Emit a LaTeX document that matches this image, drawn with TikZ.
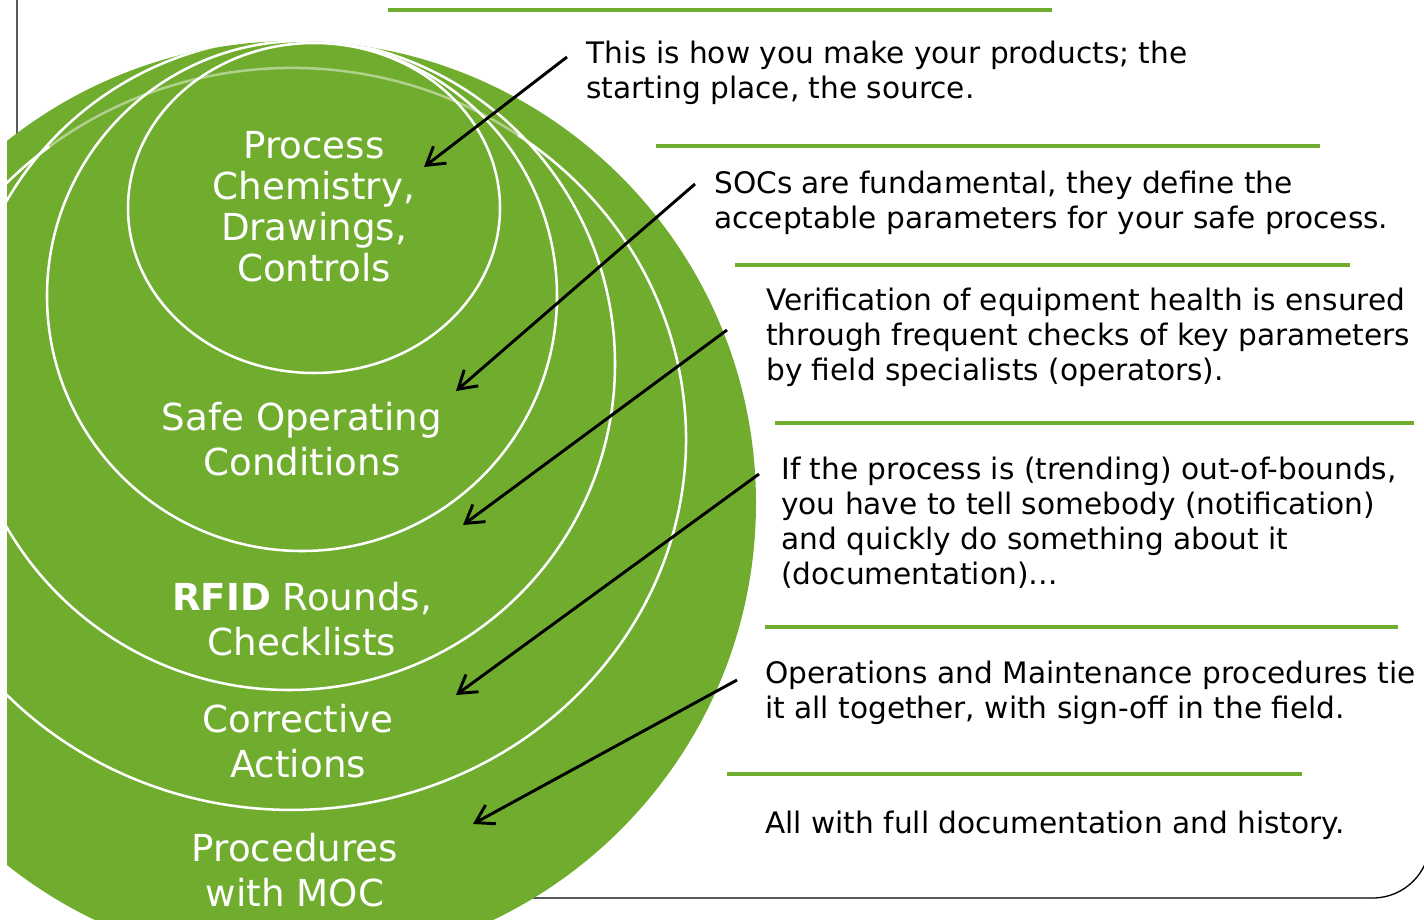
\documentclass[tikz,border=0pt]{standalone}
\usepackage{fontspec}
\setmainfont{DejaVu Sans}
\usetikzlibrary{arrows.meta}
\definecolor{socgreen}{HTML}{70AC2E}

\tikzset{
  ring/.style={draw=white, line width=1.9pt},
  rule/.style={draw=socgreen, line width=3pt},
  pointer/.style={draw=black, line width=2.2pt, -{Straight Barb[length=13pt,width=16pt]}},
  note/.style={anchor=north west, inner sep=0pt, align=left, font=\fontsize{22.2}{26.25}\selectfont},
  layer/.style={anchor=north, inner sep=0pt, align=center, text=white, font=\fontsize{27.9}{33.75}\selectfont},
}

\begin{document}
\begin{tikzpicture}[x=0.75pt,y=0.75pt,yscale=-1,xscale=1]
\useasboundingbox (0,0) rectangle (1424,920);

%Shape: Frame
\draw[line width=1pt, rounded corners=43pt] (17,-80) -- (17,898) -- (1430,898) -- (1430,-80);

%Shape: Circle (outer disc and rings)
\begin{scope}
\clip (7,0) rectangle (1424,920);
\fill[socgreen] (294,503) circle [radius=462];
\clip (294,503) circle [radius=462];
\draw[ring] (314,208) ellipse [x radius=186, y radius=165];
\draw[ring] (302,296) circle [radius=255];
\draw[ring] (289,364) circle [radius=326];
\draw[ring] (518,135) arc [start angle=-55, end angle=232, x radius=394, y radius=371];
\draw[ring, draw opacity=0.45] (518,135) arc [start angle=-55, end angle=-128, x radius=394, y radius=371];
\end{scope}

%Straight Lines (green rules)
\draw[rule] (388,10) -- (1052,10);
\draw[rule] (656,146) -- (1320,146);
\draw[rule] (735,265) -- (1350,265);
\draw[rule] (775,423) -- (1414,423);
\draw[rule] (765,627) -- (1398,627);
\draw[rule] (727,774) -- (1302,774);

% Text Node
\node[note] (srcnote) at (586,41) {This is how you make your products; the\\starting place, the source.};
% Text Node
\node[note] (socnote) at (714,171) {SOCs are fundamental, they define the\\acceptable parameters for your safe process.};
% Text Node
\node[note] (rfidnote) at (766,288) {Verification of equipment health is ensured\\through frequent checks of key parameters\\by field specialists (operators).};
% Text Node
\node[note] (actnote) at (781,457) {If the process is (trending) out-of-bounds,\\you have to tell somebody (notification)\\and quickly do something about it\\(documentation)…};
% Text Node
\node[note] (procnote) at (765,661) {Operations and Maintenance procedures tie\\it all together, with sign-off in the field.};
% Text Node
\node[note] (histnote) at (765,811) {All with full documentation and history.};

% Text Node
\node[layer, font=\fontsize{27.9}{30.75}\selectfont] (chemlbl) at (314,131) {Process\\Chemistry,\\Drawings,\\Controls};
% Text Node
\node[layer] (soclbl) at (302,402) {Safe Operating\\Conditions};
% Text Node
\node[layer] (rfidlbl) at (302,582) {\textbf{RFID} Rounds,\\Checklists};
% Text Node
\node[layer] (actlbl) at (298,704) {Corrective\\Actions};
% Text Node
\node[layer] (proclbl) at (295,833) {Procedures\\with MOC};

%Straight Lines (pointers)
\coordinate (srcfrom) at (567,57);
\coordinate (srcto) at (424,167);
\coordinate (socfrom) at (695,184);
\coordinate (socto) at (456,391);
\coordinate (rfidfrom) at (727,330);
\coordinate (rfidto) at (463,525);
\coordinate (actfrom) at (759,474);
\coordinate (actto) at (456,695);
\coordinate (procfrom) at (737,680);
\coordinate (procto) at (473,824);
\draw[pointer] (srcfrom) -- (srcto);
\draw[pointer] (socfrom) -- (socto);
\draw[pointer] (rfidfrom) -- (rfidto);
\draw[pointer] (actfrom) -- (actto);
\draw[pointer] (procfrom) -- (procto);

\end{tikzpicture}
\end{document}
